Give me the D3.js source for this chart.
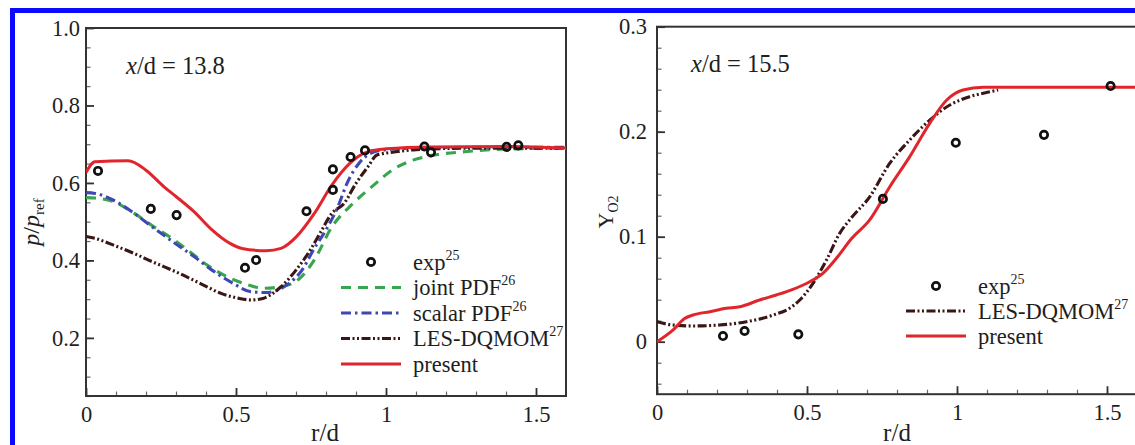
<!DOCTYPE html>
<html>
<head>
<meta charset="utf-8">
<script src="https://cdn.jsdelivr.net/npm/d3@7"></script>
<style>
  body { margin: 0; background: #fff; }
  svg { display: block; }
  text { font-family: "Liberation Serif", "Times New Roman", serif; fill: #1e1e1e; }
</style>
</head>
<body>
<svg id="chart" width="1135" height="445"></svg>
<script>
// ---- Left panel: density ratio p/p_ref at x/d = 13.8 ----
const expLeftR = [0.04, 0.216, 0.302, 0.53, 0.567, 0.735, 0.823, 0.823, 0.882, 0.93, 1.128, 1.15, 1.402, 1.441];
const expLeftV = [0.631, 0.533, 0.517, 0.381, 0.401, 0.527, 0.582, 0.635, 0.667, 0.684, 0.694, 0.679, 0.693, 0.697];

const presentLeftR = [0, 0.03, 0.14, 0.2, 0.26, 0.3, 0.36, 0.42, 0.48, 0.52, 0.6, 0.65, 0.7, 0.76, 0.82, 0.88, 0.94, 1.0, 1.15, 1.4, 1.6];
const presentLeftV = [0.627, 0.655, 0.657, 0.633, 0.59, 0.565, 0.526, 0.479, 0.444, 0.431, 0.425, 0.431, 0.46, 0.52, 0.595, 0.651, 0.681, 0.688, 0.693, 0.694, 0.69];

const scalarLeftR = [0, 0.03, 0.09, 0.16, 0.22, 0.29, 0.36, 0.42, 0.49, 0.55, 0.6, 0.67, 0.72, 0.76, 0.8, 0.84, 0.87, 0.91, 0.95, 1.0, 1.1, 1.3, 1.6];
const scalarLeftV = [0.575, 0.573, 0.556, 0.522, 0.487, 0.448, 0.41, 0.375, 0.341, 0.319, 0.317, 0.337, 0.375, 0.43, 0.479, 0.539, 0.599, 0.651, 0.677, 0.686, 0.69, 0.692, 0.692];

const jointLeftR = [0, 0.03, 0.09, 0.16, 0.22, 0.29, 0.35, 0.40, 0.47, 0.54, 0.59, 0.65, 0.71, 0.76, 0.82, 0.89, 0.96, 1.02, 1.09, 1.16, 1.27, 1.38, 1.6];
const jointLeftV = [0.562, 0.561, 0.552, 0.522, 0.49, 0.455, 0.42, 0.39, 0.358, 0.337, 0.328, 0.332, 0.352, 0.4, 0.487, 0.547, 0.595, 0.633, 0.659, 0.672, 0.681, 0.687, 0.69];

const dqmomLeftR = [0, 0.03, 0.09, 0.16, 0.22, 0.31, 0.38, 0.45, 0.51, 0.55, 0.59, 0.65, 0.70, 0.75, 0.78, 0.82, 0.86, 0.90, 0.94, 0.97, 1.04, 1.1, 1.3, 1.6];
const dqmomLeftV = [0.462, 0.457, 0.44, 0.418, 0.397, 0.367, 0.341, 0.315, 0.302, 0.298, 0.302, 0.332, 0.375, 0.43, 0.47, 0.522, 0.547, 0.599, 0.642, 0.672, 0.681, 0.686, 0.69, 0.69];

// ---- Right panel: oxygen mass fraction Y_O2 at x/d = 15.5 ----
const expRightR = [0.22, 0.292, 0.471, 0.753, 0.996, 1.29, 1.512];
const expRightV = [0.0054, 0.0102, 0.007, 0.136, 0.1895, 0.197, 0.2435];

const presentRightR = [0, 0.053, 0.092, 0.12, 0.176, 0.231, 0.276, 0.342, 0.398, 0.453, 0.509, 0.553, 0.598, 0.648, 0.709, 0.776, 0.842, 0.909, 0.965, 1.02, 1.087, 1.2, 1.6];
const presentRightV = [0, 0.011, 0.022, 0.0254, 0.0286, 0.0318, 0.0333, 0.0397, 0.0445, 0.0499, 0.0571, 0.0651, 0.0794, 0.098, 0.116, 0.1476, 0.176, 0.208, 0.230, 0.2397, 0.2423, 0.2423, 0.2423];

const dqmomRightR = [0, 0.053, 0.12, 0.209, 0.298, 0.387, 0.442, 0.476, 0.52, 0.565, 0.609, 0.648, 0.709, 0.776, 0.842, 0.909, 0.976, 1.042, 1.109, 1.137];
const dqmomRightV = [0.019, 0.0159, 0.015, 0.0159, 0.019, 0.0254, 0.0318, 0.0397, 0.0556, 0.0778, 0.1032, 0.118, 0.138, 0.17, 0.192, 0.211, 0.2254, 0.2333, 0.238, 0.2397];

// Tick values
const leftYTicks = [0.2, 0.4, 0.6, 0.8, 1.0];
const leftYTickLabels = ["0.2", "0.4", "0.6", "0.8", "1.0"];
const rightYTicks = [0, 0.1, 0.2, 0.3];
const rightYTickLabels = ["0", "0.1", "0.2", "0.3"];
const xTicks = [0, 0.5, 1, 1.5];
const xTickLabels = ["0", "0.5", "1", "1.5"];

// Series styling
const styles = {
  joint:   { color: "#37a64e", dash: "10,7" },
  scalar:  { color: "#3f47b3", dash: "10,4,2.5,4" },
  dqmom:   { color: "#3a1616", dash: "9,2.5,2,2.5,2,2.5" },
  present: { color: "#e0262c", dash: null }
};

const svg = d3.select("#chart");

// Outer blue frame
svg.append("rect")
  .attr("x", 12.5).attr("y", 10.5)
  .attr("width", 1400).attr("height", 600)
  .attr("fill", "none").attr("stroke", "#0a0aff").attr("stroke-width", 5);

function zip(a, b) { return a.map((v, i) => [v, b[i]]); }

function drawPanel(cfg) {
  const g = svg.append("g");
  const x = d3.scaleLinear().domain(cfg.xDomain).range(cfg.xRange);
  const y = d3.scaleLinear().domain(cfg.yDomain).range(cfg.yRange);

  const clipId = "clip" + cfg.id;
  svg.append("clipPath").attr("id", clipId).append("rect")
    .attr("x", cfg.xRange[0]).attr("y", cfg.yRange[1])
    .attr("width", cfg.xRange[1] - cfg.xRange[0])
    .attr("height", cfg.yRange[0] - cfg.yRange[1]);

  // Minor ticks
  const minorY = g.append("g").attr("transform", `translate(${cfg.xRange[0]},0)`)
    .call(d3.axisLeft(y).tickValues(cfg.yMinor).tickSize(-4.5).tickFormat(""));
  const minorX = g.append("g").attr("transform", `translate(0,${cfg.yRange[0]})`)
    .call(d3.axisBottom(x).tickValues(d3.range(0, 16).map(d => d / 10)).tickSize(-4.5).tickFormat(""));
  [minorY, minorX].forEach(a => {
    a.select(".domain").remove();
    a.selectAll("line").attr("stroke", "#666").attr("stroke-width", 1.2);
  });

  // Major ticks with labels
  const yAxis = g.append("g").attr("transform", `translate(${cfg.xRange[0]},0)`)
    .call(d3.axisLeft(y).tickValues(cfg.yTicks).tickSize(-8).tickPadding(cfg.yPad)
      .tickFormat((d, i) => cfg.yLabels[i]));
  const xAxis = g.append("g").attr("transform", `translate(0,${cfg.yRange[0]})`)
    .call(d3.axisBottom(x).tickValues(xTicks).tickSize(-8).tickPadding(10)
      .tickFormat((d, i) => xTickLabels[i]));
  [yAxis, xAxis].forEach(a => {
    a.select(".domain").remove();
    a.selectAll("line").attr("stroke", "#333").attr("stroke-width", 1.8);
    a.selectAll("text").attr("font-size", 22.5);
  });

  // Plot frame
  g.append("rect")
    .attr("x", cfg.xRange[0]).attr("y", cfg.yRange[1])
    .attr("width", cfg.xRange[1] - cfg.xRange[0])
    .attr("height", cfg.yRange[0] - cfg.yRange[1])
    .attr("fill", "none").attr("stroke", "#333").attr("stroke-width", 2);

  // Curves
  const line = d3.line().x(d => x(d[0])).y(d => y(d[1])).curve(d3.curveMonotoneX);
  const curves = g.append("g").attr("clip-path", `url(#${clipId})`);
  cfg.series.forEach(s => {
    curves.append("path")
      .attr("d", line(zip(s.r, s.v)))
      .attr("fill", "none")
      .attr("stroke", styles[s.key].color)
      .attr("stroke-width", s.key === "present" ? 3 : 3.1)
      .attr("stroke-dasharray", styles[s.key].dash);
  });

  // Experimental points
  curves.selectAll("circle.exp").data(zip(cfg.expR, cfg.expV)).join("circle")
    .attr("class", "exp")
    .attr("cx", d => x(d[0])).attr("cy", d => y(d[1])).attr("r", 3.7)
    .attr("fill", "none").attr("stroke", "#111").attr("stroke-width", 2.7);

  return { g, x, y };
}

// Left panel
drawPanel({
  id: "L",
  xDomain: [0, 1.6], xRange: [86, 566],
  yDomain: [0.05, 1.0], yRange: [396, 28],
  yTicks: leftYTicks, yLabels: leftYTickLabels, yPad: 6,
  yMinor: d3.range(1, 20).map(d => d * 0.05),
  expR: expLeftR, expV: expLeftV,
  series: [
    { key: "joint", r: jointLeftR, v: jointLeftV },
    { key: "scalar", r: scalarLeftR, v: scalarLeftV },
    { key: "dqmom", r: dqmomLeftR, v: dqmomLeftV },
    { key: "present", r: presentLeftR, v: presentLeftV }
  ]
});

// Right panel
drawPanel({
  id: "R",
  xDomain: [0, 1.6], xRange: [657, 1137],
  yDomain: [-0.05, 0.3], yRange: [394.2, 26.7],
  yTicks: rightYTicks, yLabels: rightYTickLabels, yPad: 10,
  yMinor: d3.range(-2, 16).map(d => d * 0.02),
  expR: expRightR, expV: expRightV,
  series: [
    { key: "dqmom", r: dqmomRightR, v: dqmomRightV },
    { key: "present", r: presentRightR, v: presentRightV }
  ]
});

// Axis titles
function xTitle(cx) {
  svg.append("text").attr("x", cx).attr("y", 441).attr("text-anchor", "middle")
    .attr("font-size", 25).text("r/d");
}
xTitle(325);
xTitle(897);

const yl = svg.append("text").attr("transform", "translate(39,222) rotate(-90)")
  .attr("text-anchor", "middle").attr("font-size", 24);
yl.append("tspan").attr("font-style", "italic").text("p");
yl.append("tspan").text("/");
yl.append("tspan").attr("font-style", "italic").text("p");
yl.append("tspan").attr("font-size", 15).attr("dy", 5).text("ref");

const yr = svg.append("text").attr("transform", "translate(613,212) rotate(-90)")
  .attr("text-anchor", "middle").attr("font-size", 22);
yr.append("tspan").text("Y");
yr.append("tspan").attr("font-size", 14).attr("dy", 5).text("O2");

// Station annotations
function station(x0, y0, value) {
  const t = svg.append("text").attr("x", x0).attr("y", y0).attr("font-size", 24.5);
  t.append("tspan").attr("font-style", "italic").text("x");
  t.append("tspan").text("/d = " + value);
}
station(126, 74, "13.8");
station(691, 72, "15.5");

// Legends
function legend(x0, y0, rows, step) {
  rows.forEach((row, i) => {
    const cy = y0 + i * step;
    if (row.key === "exp") {
      svg.append("circle").attr("cx", x0 + 30).attr("cy", cy).attr("r", 3.7)
        .attr("fill", "none").attr("stroke", "#111").attr("stroke-width", 2.7);
    } else {
      svg.append("line").attr("x1", x0).attr("x2", x0 + 60).attr("y1", cy).attr("y2", cy)
        .attr("stroke", styles[row.key].color)
        .attr("stroke-width", row.key === "present" ? 3 : 3.2)
        .attr("stroke-dasharray", styles[row.key].dash);
    }
    const t = svg.append("text").attr("x", x0 + 72).attr("y", cy + 7.5).attr("font-size", 22.5);
    t.append("tspan").text(row.label);
    if (row.sup) t.append("tspan").attr("font-size", 14).attr("dy", -10).text(row.sup);
  });
}
legend(341, 262, [
  { key: "exp", label: "exp", sup: "25" },
  { key: "joint", label: "joint PDF", sup: "26" },
  { key: "scalar", label: "scalar PDF", sup: "26" },
  { key: "dqmom", label: "LES-DQMOM", sup: "27" },
  { key: "present", label: "present" }
], 25.5);

legend(906, 286, [
  { key: "exp", label: "exp", sup: "25" },
  { key: "dqmom", label: "LES-DQMOM", sup: "27" },
  { key: "present", label: "present" }
], 25);
</script>
</body>
</html>
